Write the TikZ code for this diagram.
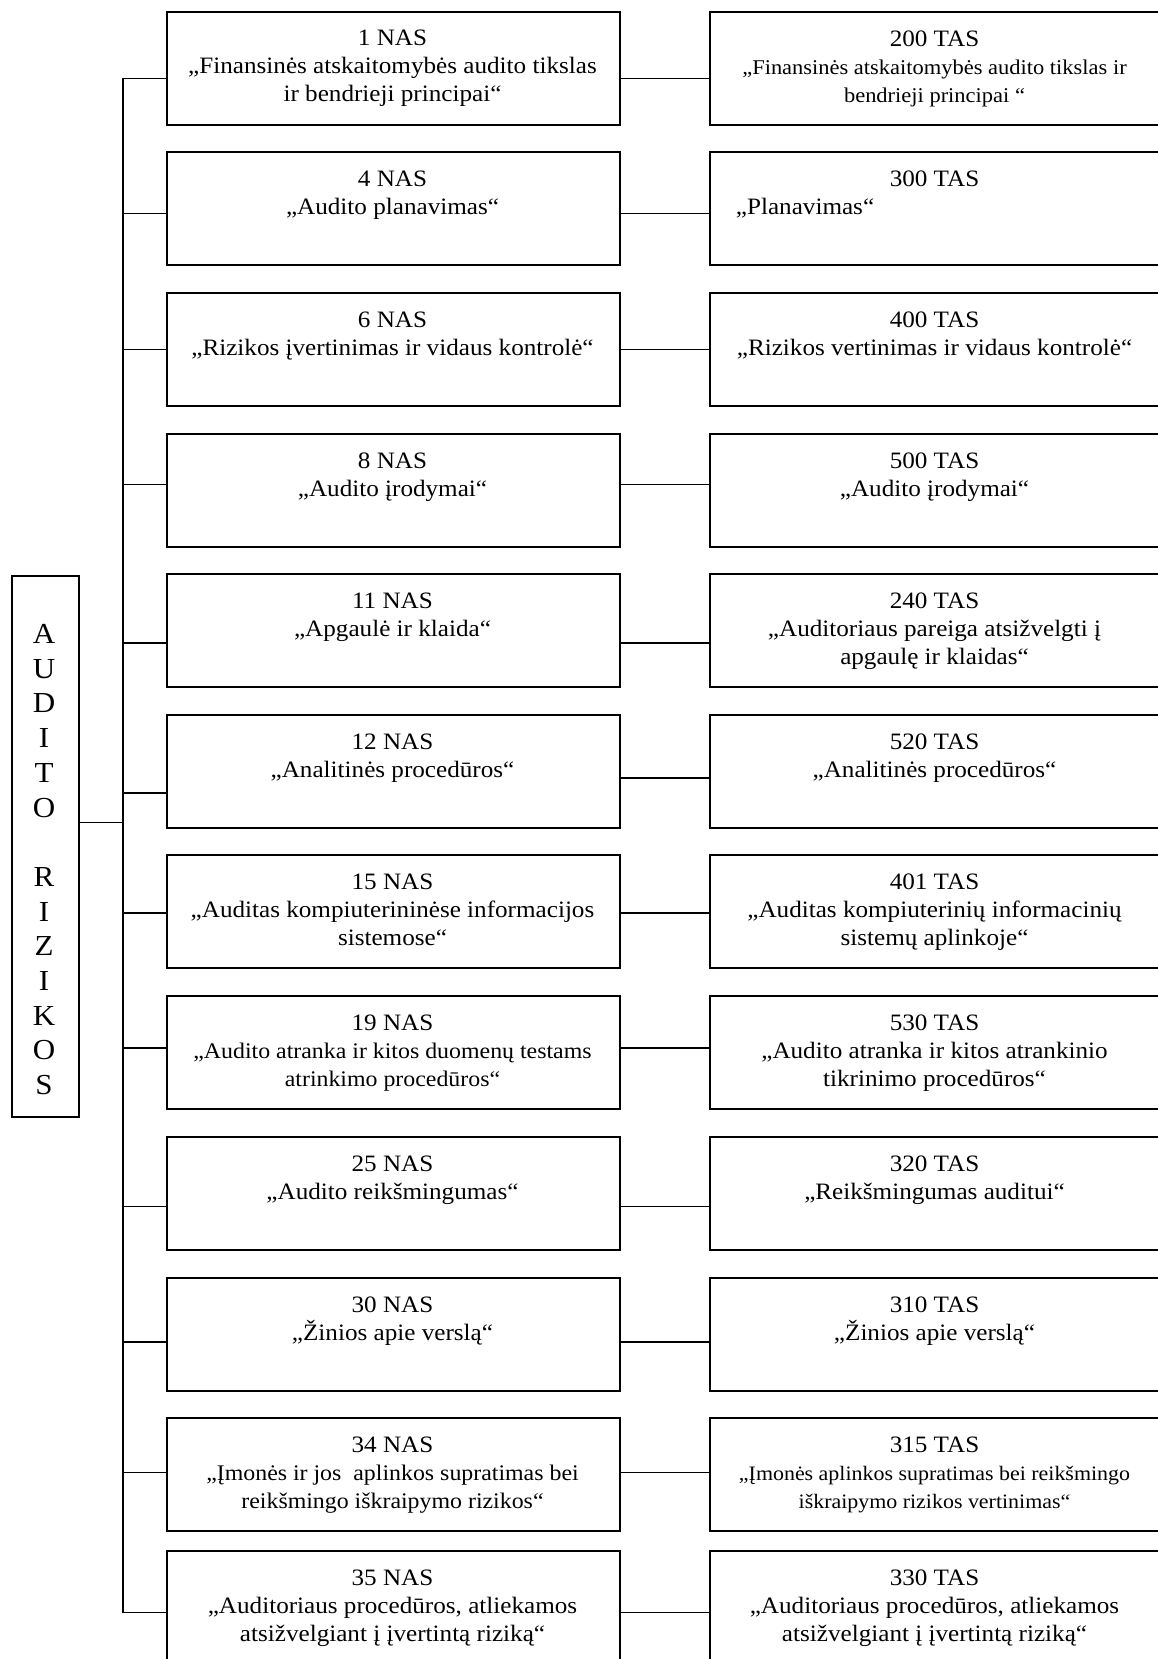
\documentclass[tikz,border=0pt]{standalone}
\usepackage{fontspec}
\setmainfont[FakeStretch=1.07]{Liberation Serif}
\newcommand\regf{\fontsize{23.5}{28}\selectfont}
\newcommand\smallf{\fontsize{21}{28}\selectfont}
\newcommand\midf{\fontsize{22.3}{28}\selectfont}
\newcommand\tinyf{\fontsize{20.5}{28}\selectfont}
\begin{document}
\begin{tikzpicture}[x=1pt,y=-1pt,
  box/.style={draw, line width=2pt, inner sep=0pt, minimum height=113pt, anchor=north west},
  nasbox/.style={box, minimum width=453pt},
  tasbox/.style={box, minimum width=451pt},
  link/.style={line width=1.5pt},
  txt/.style={anchor=north, inner sep=0pt, align=center, font=\regf},
]
\useasboundingbox (0,0) rectangle (1158,1659);
\clip (0,0) rectangle (1158,1659);

\foreach \i/\top/\ly/\my/\ntext/\stext in {
 1/10.6/78.3/78.3/{1 NAS\\„Finansinės atskaitomybės audito tikslas\\ir bendrieji principai“}/{200 TAS\\{\smallf „Finansinės atskaitomybės audito tikslas ir}\\{\smallf bendrieji principai “}},
 2/151.4/213.3/213.3/{4 NAS\\„Audito planavimas“}/{300 TAS},
 3/292.2/349.4/349.4/{6 NAS\\„Rizikos įvertinimas ir vidaus kontrolė“}/{400 TAS\\„Rizikos vertinimas ir vidaus kontrolė“},
 4/433/484.4/484.4/{8 NAS\\„Audito įrodymai“}/{500 TAS\\„Audito įrodymai“},
 5/573.3/643.2/643.2/{11 NAS\\„Apgaulė ir klaida“}/{240 TAS\\„Auditoriaus pareiga atsižvelgti į\\apgaulę ir klaidas“},
 6/714.1/793/778.2/{12 NAS\\„Analitinės procedūros“}/{520 TAS\\„Analitinės procedūros“},
 7/853.8/913/913/{15 NAS\\„Auditas kompiuterininėse informacijos\\sistemose“}/{401 TAS\\„Auditas kompiuterinių informacinių\\sistemų aplinkoje“},
 8/995/1047.9/1047.9/{19 NAS\\{\midf „Audito atranka ir kitos duomenų testams}\\{\midf atrinkimo procedūros“}}/{530 TAS\\„Audito atranka ir kitos atrankinio\\tikrinimo procedūros“},
 9/1135.7/1206.5/1206.5/{25 NAS\\„Audito reikšmingumas“}/{320 TAS\\„Reikšmingumas auditui“},
 10/1276.8/1341.9/1341.9/{30 NAS\\„Žinios apie verslą“}/{310 TAS\\„Žinios apie verslą“},
 11/1417/1472.5/1472.5/{34 NAS\\{\midf „Įmonės ir jos~ aplinkos supratimas bei}\\{\midf reikšmingo iškraipymo rizikos“}}/{315 TAS\\{\tinyf „Įmonės aplinkos supratimas bei reikšmingo}\\{\tinyf iškraipymo rizikos vertinimas“}},
 12/1550/1612.7/1612.7/{35 NAS\\„Auditoriaus procedūros, atliekamos\\atsižvelgiant į įvertintą riziką“}/{330 TAS\\„Auditoriaus procedūros, atliekamos\\atsižvelgiant į įvertintą riziką“}%
}{
  \node[nasbox] (n\i) at (166,\top) {};
  \node[tasbox] (s\i) at (709,\top) {};
  \node[txt] (nt\i) at (392.5,\top+19.6) {\ntext};
  \node[txt] (st\i) at (934.5,\top+19.6) {\stext};
  \coordinate (t\i) at (123,\ly);
  \coordinate (m\i) at (664,\my);
  \draw[link] (t\i) -- (t\i -| n\i.west);
  \draw[link] (m\i -| n\i.east) -- (m\i -| s\i.west);
}
\node[anchor=base west, inner sep=0pt, font=\regf] (plan) at (735.7,214.9) {„Planavimas“};

\draw[link] (t1) -- (t12);

\node[draw, line width=2pt, inner sep=0pt, minimum width=67pt, minimum height=541pt, anchor=north west] (L) at (10.5,574.5) {};
\node[anchor=north, inner sep=0pt, align=center, font=\fontsize{29}{34.7}\selectfont] (Lt) at (44,624.2)
  {A\\U\\D\\I\\T\\O\\\strut\\R\\I\\Z\\I\\K\\O\\S};
\coordinate (lj) at (123,822.5);
\draw[link] (L.east |- lj) -- (lj);
\end{tikzpicture}
\end{document}
